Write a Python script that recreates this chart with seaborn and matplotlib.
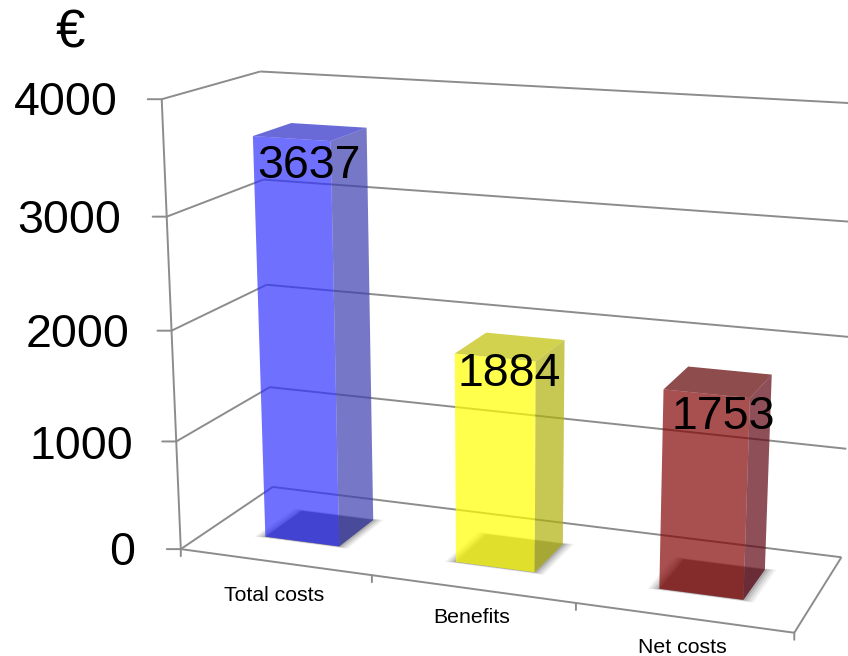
import numpy as np
import matplotlib
matplotlib.use("Agg")
import matplotlib.pyplot as plt
from matplotlib.patches import Rectangle
from matplotlib.transforms import Transform
import seaborn as sns

categories = ["Total costs", "Benefits", "Net costs"]
values = [3637, 1884, 1753]
y_ticks = [0, 1000, 2000, 3000, 4000]

front_colors = ["#3333ff", "#ffff00", "#830505"]
side_colors = ["#3e3eb0", "#b0b00c", "#5e0513"]
top_colors = ["#2a2ac8", "#bfbf05", "#5e0002"]
footprint_colors = ["#696969", "#959595", "#888888"]
label_offsets = [(-1, -29), (-1, -22), (5, -30)]
category_drops = [-32, -27, -28]
tick_label_offsets = [(-46, 1), (-43, -1), (-42, 1), (-46, 1), (-44, 1)]

W, H = 848, 656
BAR_WIDTH = 0.395
Z_NEAR, Z_FAR = 0.30, 0.71
FACE_ALPHA = 0.7
AXIS_GREY = "#8c8c8c"

# Camera calibration: world (category, value, depth) against canvas pixels.
world_pts = np.array([
    (-.5, 0, 0), (-.5, 1000, 0), (-.5, 2000, 0), (-.5, 3000, 0), (-.5, 4000, 0),
    (-.5, 0, 1), (-.5, 1000, 1), (-.5, 2000, 1), (-.5, 3000, 1), (-.5, 4000, 1),
    (.5, 0, 0), (1.5, 0, 0), (2.5, 0, 0), (2.5, 0, 1), (2.5, 3000, 1), (2.5, 4000, 1),
], float)
pixel_pts = np.array([
    (181, 549), (176, 440), (172, 330), (167, 216), (162, 99),
    (273, 487), (270, 386), (266, 285), (263, 182), (260, 71),
    (372, 577), (576, 605), (793, 632), (842, 556), (857, 222), (862, 104),
], float)


def solve_camera(world, pixels):
    rows = []
    for (x, y, z), (u, v) in zip(world, pixels):
        p = [x, y / 1000, z, 1]
        rows.append(p + [0, 0, 0, 0] + [-u * c for c in p])
        rows.append([0, 0, 0, 0] + p + [-v * c for c in p])
    return np.linalg.svd(np.array(rows))[2][-1].reshape(3, 4)


CAMERA = solve_camera(world_pts, pixel_pts)


class PlaneTransform(Transform):
    """Maps 2D coordinates on a plane of the 3D scene to display pixels."""
    input_dims = output_dims = 2
    is_separable = False
    has_inverse = False

    def __init__(self, to_world):
        super().__init__()
        self.to_world = to_world

    def transform_non_affine(self, values):
        values = np.asarray(values, float).reshape(-1, 2)
        x, y, z = self.to_world(values[:, 0], values[:, 1])
        w = np.ones_like(values[:, 0])
        q = CAMERA @ np.vstack([x * w, y * w / 1000, z * w, w])
        return np.column_stack([q[0] / q[2], H - q[1] / q[2]])


def depth_plane(z):
    return PlaneTransform(lambda u, v: (u, v, z))


def side_plane(x):
    return PlaneTransform(lambda u, v: (x, v, u))


def level_plane(y):
    return PlaneTransform(lambda u, v: (u, y, v))


sns.set_theme(style="white")
plt.rcParams["font.family"] = ["Liberation Sans", "DejaVu Sans"]

fig = plt.figure(figsize=(W / 100, H / 100), dpi=100)
ax = fig.add_axes([0, 0, 1, 1])

# Front faces come straight from the categorical bar plot, then get projected.
sns.barplot(x=categories, y=values, hue=categories, palette=front_colors,
            width=BAR_WIDTH, alpha=FACE_ALPHA, saturation=1, legend=False,
            linewidth=0, ax=ax)
ax.axis("off")
front = depth_plane(Z_NEAR)
for bar in ax.patches:
    bar.set_transform(front)
    bar.set_zorder(5)


def axis_line(xs, ys, plane, zorder=2):
    ax.plot(xs, ys, color=AXIS_GREY, lw=1.4, transform=plane, zorder=zorder,
            solid_capstyle="butt", clip_on=False)


def tick(xy, plane, offset):
    ax.annotate("", xy=xy, xycoords=plane, xytext=offset, textcoords="offset pixels",
                arrowprops=dict(arrowstyle="-", color=AXIS_GREY, lw=1.4,
                                shrinkA=0, shrinkB=0), zorder=2)


# Walls, floor and ticks
left_wall = side_plane(-0.5)
back_wall = depth_plane(1)
front_edge = depth_plane(0)
for v, offset in zip(y_ticks, tick_label_offsets):
    axis_line([0, 1], [v, v], left_wall)
    axis_line([-0.5, 2.5], [v, v], back_wall)
    tick((-0.5, v), front_edge, (-14, 0))
    ax.annotate(str(v), xy=(-0.5, v), xycoords=front_edge, xytext=offset,
                textcoords="offset pixels", ha="right", va="center_baseline",
                fontsize=33.5, color="black")
axis_line([-0.5, -0.5], [0, 4000], front_edge)
axis_line([-0.5, 2.5], [0, 0], front_edge)
axis_line([0, 1], [0, 0], side_plane(2.5))
for x in np.arange(len(categories) + 1) - 0.5:
    tick((x, 0), front_edge, (0, -7))

# Bars: soft floor shadow, footprint, side and top faces, value labels
floor = level_plane(0)
for i, value in enumerate(values):
    left = i - BAR_WIDTH / 2
    for grow, a in [(0.05, 0.08), (0.038, 0.12), (0.025, 0.16), (0.012, 0.22)]:
        ax.add_patch(Rectangle((left - grow, Z_NEAR - grow * 0.35),
                               BAR_WIDTH + 2 * grow, Z_FAR - Z_NEAR + grow * 0.7,
                               transform=floor, facecolor="#555555", alpha=a,
                               linewidth=0, zorder=3))
    ax.add_patch(Rectangle((left, Z_NEAR), BAR_WIDTH, Z_FAR - Z_NEAR,
                           transform=floor, facecolor=footprint_colors[i],
                           linewidth=0, zorder=4))
    ax.add_patch(Rectangle((Z_NEAR, 0), Z_FAR - Z_NEAR, value,
                           transform=side_plane(left + BAR_WIDTH),
                           facecolor=side_colors[i], alpha=FACE_ALPHA,
                           linewidth=0, zorder=5))
    ax.add_patch(Rectangle((left, Z_NEAR), BAR_WIDTH, Z_FAR - Z_NEAR,
                           transform=level_plane(value),
                           facecolor=top_colors[i], alpha=FACE_ALPHA,
                           linewidth=0, zorder=5))
    ax.annotate(str(value), xy=(i, value),
                xycoords=depth_plane((Z_NEAR + Z_FAR) / 2),
                xytext=label_offsets[i], textcoords="offset pixels",
                ha="center", va="center_baseline", fontsize=33.5,
                color="black", zorder=8)
    ax.annotate(categories[i], xy=(i, 0), xycoords=front_edge,
                xytext=(-1, category_drops[i]), textcoords="offset pixels",
                ha="center", va="center_baseline", fontsize=15.3,
                color="black", zorder=8)

fig.text(70 / W, 1 - 33 / H, "€", fontsize=38, ha="center", va="center", color="black")

fig.savefig("out.png", dpi=100)
